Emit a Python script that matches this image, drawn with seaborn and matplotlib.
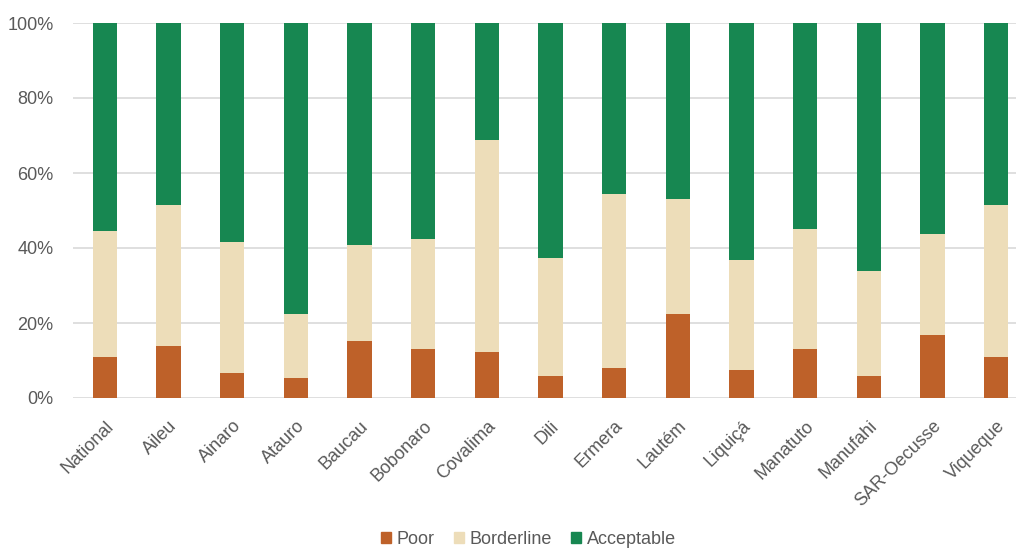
import pandas as pd
import matplotlib
matplotlib.use("Agg")
import matplotlib.pyplot as plt
import seaborn as sns
from matplotlib.patches import Patch

# Data (percent of households)
districts = ["National", "Aileu", "Ainaro", "Atauro", "Baucau", "Bobonaro", "Covalima",
             "Dili", "Ermera", "Lautém", "Liquiçá", "Manatuto", "Manufahi",
             "SAR-Oecusse", "Viqueque"]
poor = [10.9, 13.8, 6.6, 5.3, 15.2, 13.0, 12.4, 6.0, 8.1, 22.4, 7.4, 13.0, 6.0, 16.7, 10.9]
borderline = [33.6, 37.8, 35.0, 17.1, 25.7, 29.4, 56.3, 31.4, 46.4, 30.6, 29.3, 32.2, 27.8, 27.0, 40.7]
acceptable = [100 - p - b for p, b in zip(poor, borderline)]

colors = {"Poor": "#BE6129", "Borderline": "#EDDDB9", "Acceptable": "#178751"}

df = pd.DataFrame({"district": districts, "Poor": poor,
                   "Borderline": borderline, "Acceptable": acceptable})
df["cum_border"] = df["Poor"] + df["Borderline"]
df["cum_accept"] = df["cum_border"] + df["Acceptable"]

sns.set_style("white")
plt.rcParams["font.family"] = ["Liberation Sans", "DejaVu Sans"]

fig = plt.figure(figsize=(10.16, 5.5), dpi=100)
ax = fig.add_axes([73 / 1016, 1 - 398 / 550, 1 - 73 / 1016, 375 / 550])

# stacked bars: draw cumulative layers from top to bottom
for col, name in [("cum_accept", "Acceptable"), ("cum_border", "Borderline"), ("Poor", "Poor")]:
    sns.barplot(data=df, x="district", y=col, color=colors[name], width=0.38,
                saturation=1, linewidth=0, ax=ax, zorder=3)

ax.set_ylim(0, 100)
ax.set_xlim(-0.5, 14.31)
ax.set_yticks(range(0, 101, 20))
ax.set_yticklabels([f"{v}%" for v in range(0, 101, 20)])
ax.yaxis.grid(True, color="#D9D9D9", linewidth=1.2, zorder=0)
ax.set_axisbelow(True)
for s in ax.spines.values():
    s.set_visible(False)
ax.set_xlabel("")
ax.set_ylabel("")
ax.tick_params(axis="both", length=0, labelsize=13, labelcolor="#595959")
ax.tick_params(axis="y", pad=14)
plt.setp(ax.get_xticklabels(), rotation=45, ha="right", rotation_mode="anchor")
ax.tick_params(axis="x", pad=14)

handles = [Patch(color=colors[n], label=n) for n in ["Poor", "Borderline", "Acceptable"]]
fig.legend(handles=handles, loc="center", bbox_to_anchor=(0.52, 1 - 539 / 550), ncol=3,
           frameon=False, fontsize=13, handlelength=0.55, handleheight=0.55,
           handletextpad=0.3, columnspacing=1.1, labelcolor="#595959")

fig.savefig("out.png", dpi=100)
